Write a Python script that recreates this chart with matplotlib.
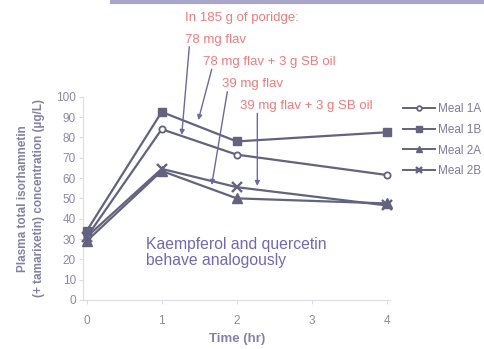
import matplotlib
matplotlib.use("Agg")
import matplotlib.pyplot as plt
from matplotlib.lines import Line2D

times = [0, 1, 2, 4]
meal_1a = [31, 84, 71.5, 61.5]
meal_1b = [34, 92.5, 78, 82.5]
meal_2a = [29, 63.5, 50, 47.5]
meal_2b = [31, 64.5, 55.5, 46.5]
series_labels = ["Meal 1A", "Meal 1B", "Meal 2A", "Meal 2B"]
x_ticks = [0, 1, 2, 3, 4]
y_ticks = list(range(0, 101, 10))

plt.rcParams['font.family'] = ['Liberation Sans', 'DejaVu Sans']

W, H = 485, 349
fig = plt.figure(figsize=(W / 100, H / 100), dpi=100)
fig.patch.set_facecolor('white')

x0px, x4px = 86.7, 386.7
ppx = (x4px - x0px) / 4
xlo, xhi = -0.05, 4.05
left_px = x0px + xlo * ppx
right_px = x0px + xhi * ppx
y0py, y100py = 300.0, 96.7
ax = fig.add_axes([left_px / W, (H - y0py) / H, (right_px - left_px) / W, (y0py - y100py) / H])
ax.set_xlim(xlo, xhi)
ax.set_ylim(0, 100)

line_c = '#64637f'
series = [meal_1a, meal_1b, meal_2a, meal_2b]
styles = [
    dict(marker='o', markersize=4.5, markerfacecolor='white', markeredgewidth=1.3),
    dict(marker='s', markersize=6, markerfacecolor=line_c),
    dict(marker='^', markersize=6.5, markerfacecolor=line_c),
    dict(marker='x', markersize=6.5, markeredgewidth=1.7),
]
for vals, lab, st in zip(series, series_labels, styles):
    ax.plot(times, vals, color=line_c, lw=1.6, markeredgecolor=line_c, label=lab,
            clip_on=False, zorder=3, **st)

tick_c = '#8c89aa'
spine_c = '#dddbe8'
for s in ['top', 'right']:
    ax.spines[s].set_visible(False)
for s in ['left', 'bottom']:
    ax.spines[s].set_color(spine_c)
    ax.spines[s].set_linewidth(0.8)
ax.set_xticks(x_ticks)
ax.set_yticks(y_ticks)
ax.tick_params(axis='both', colors=spine_c, labelcolor=tick_c, labelsize=8.5, length=3, width=0.8)
ax.tick_params(axis='x', pad=8)
ax.tick_params(axis='y', pad=2)

lab_c = '#8481a8'
ax.set_xlabel('Time (hr)', fontsize=9.5, fontweight='bold', color=lab_c, labelpad=4)
ax.set_ylabel('Plasma total isorhamnetin\n(+ tamarixetin) concentration (\u00b5g/L)',
              fontsize=8.5, fontweight='bold', color=lab_c, labelpad=8, linespacing=1.45)

red = '#f07c7c'
arrow_c = '#6c69a0'
fs_red = 9.5
ax.text(1.31, 138.7, 'In 185 g of poridge:', color=red, fontsize=fs_red, va='center', ha='left', clip_on=False)
texts = [
    ('78 mg flav', (1.31, 127.9), (1.368, 124.6), (1.267, 81.2)),
    ('78 mg flav + 3 g SB oil', (1.55, 117.0), (1.667, 113.5), (1.488, 88.5)),
    ('39 mg flav', (1.80, 106.2), (1.875, 102.5), (1.667, 56.6)),
    ('39 mg flav + 3 g SB oil', (2.04, 95.4), (2.275, 91.8), (2.275, 56.1)),
]
for t, tp, a0, a1 in texts:
    ax.text(tp[0], tp[1], t, color=red, fontsize=fs_red, va='center', ha='left', clip_on=False)
    ax.annotate('', xy=a1, xytext=a0, annotation_clip=False,
                arrowprops=dict(arrowstyle='-|>', color=arrow_c, lw=1.0,
                                mutation_scale=7, shrinkA=0, shrinkB=0))

ax.text(0.79, 23.3, 'Kaempferol and quercetin\nbehave analogously', color='#6f6ab2',
        fontsize=11.3, va='center', ha='left', linespacing=1.1)

handles, labels = ax.get_legend_handles_labels()
leg = fig.legend(handles, labels, loc='upper left',
                 bbox_to_anchor=(403 / W, 1 - 103.5 / H), frameon=False,
                 fontsize=8.5, handlelength=2.7, handletextpad=0.25, labelspacing=0.72,
                 borderaxespad=0, borderpad=0, markerscale=0.75)
for txt in leg.get_texts():
    txt.set_color('#7d7aa2')
for ln in leg.get_lines():
    ln.set_linewidth(1.4)

fig.add_artist(Line2D([112 / W, 1.0], [1 - 2 / H, 1 - 2 / H], color='#a9a5c9', lw=3,
                      transform=fig.transFigure))

fig.savefig('out.png', dpi=100, facecolor='white')
